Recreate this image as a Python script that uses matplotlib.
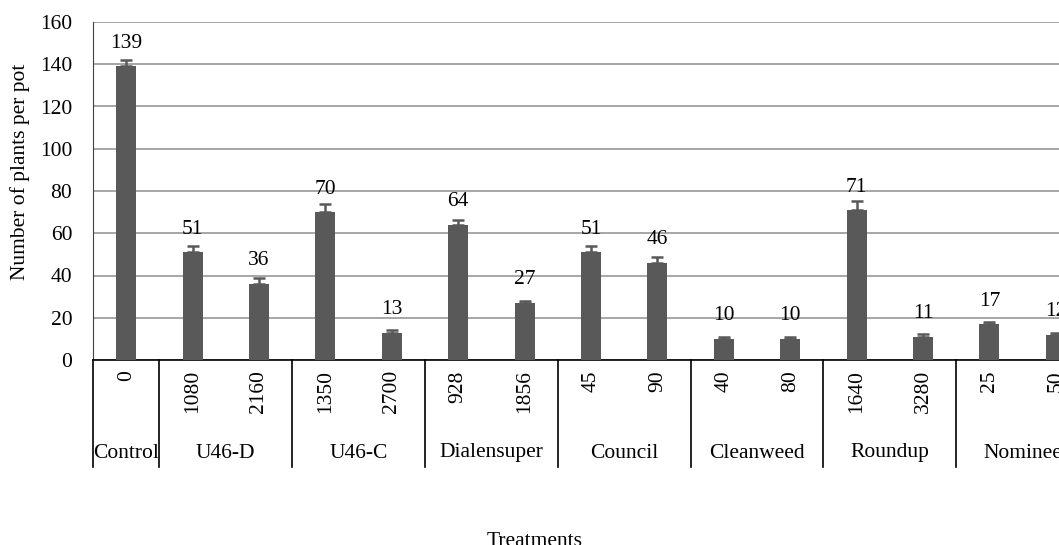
import numpy as np
import matplotlib
matplotlib.use("Agg")
import matplotlib.pyplot as plt

# --- data ---
groups = ["Control", "U46-D", "U46-C", "Dialensuper", "Council",
          "Cleanweed", "Roundup", "Nominee"]
rates = ["0", "1080", "2160", "1350", "2700", "928", "1856", "45", "90",
         "40", "80", "1640", "3280", "25", "50"]
group_size = [1, 2, 2, 2, 2, 2, 2, 2]
plants = [139, 51, 36, 70, 13, 64, 27, 51, 46, 10, 10, 71, 11, 17, 12]
errors = [3.2, 2.8, 2.8, 3.8, 1.1, 2.4, 1.1, 2.8, 2.8, 1.1, 1.1, 4.5, 1.1, 1.0, 1.0]

FS = 15.5
plt.rcParams["font.family"] = ["Liberation Serif", "DejaVu Serif"]
plt.rcParams["font.size"] = FS

W, H = 1059, 545
fig = plt.figure(figsize=(W / 100, H / 100), dpi=100)

# axes runs past the right edge, like the cropped original
x0, x1 = 93, 1089
y_top, y_bot = 22, 360
ax = fig.add_axes([x0 / W, 1 - y_bot / H, (x1 - x0) / W, (y_bot - y_top) / H])

bar_col = "#595959"
x = np.arange(len(plants))
ax.bar(x, plants, width=0.3, color=bar_col, zorder=3)
ax.errorbar(x, plants, yerr=[np.zeros(len(errors)), errors], fmt="none",
            ecolor=bar_col, elinewidth=1.8, capsize=4.5, capthick=1.8, zorder=3)

for xi, v in zip(x, plants):
    ax.annotate(str(v), (xi, v), xytext=(0, 13.3), textcoords="offset points",
                ha="center", va="baseline", fontsize=FS)

ax.set_xlim(-0.5, len(plants) - 0.5)
ax.set_ylim(0, 160)
ax.set_yticks(np.arange(0, 161, 20))
ax.yaxis.grid(True, color="#a6a6a6", linewidth=1.4, zorder=0)
ax.tick_params(axis="y", length=0, pad=15, labelsize=FS)
ax.set_xticks([])
for side in ["top", "right"]:
    ax.spines[side].set_visible(False)
ax.spines["left"].set_color("#404040")
ax.spines["bottom"].set_color("black")
ax.spines["bottom"].set_linewidth(1.2)

# rate labels under each bar
trans = ax.get_xaxis_transform()
for xi, r in zip(x, rates):
    ax.text(xi, -0.03, r, rotation=90, ha="center", va="top",
            transform=trans, fontsize=FS)

# group labels and separators
sep_y = -(467 - y_bot) / (y_bot - y_top)
lab_y = -(453 - y_bot) / (y_bot - y_top)
start = -0.5
ax.plot([start, start], [0, sep_y], color="black", lw=1.2,
        transform=trans, clip_on=False)
for g, n in zip(groups, group_size):
    end = start + n
    ax.plot([end, end], [0, sep_y], color="black", lw=1.2,
            transform=trans, clip_on=False)
    ax.text((start + end) / 2, lab_y, g, ha="center", va="center",
            transform=trans, fontsize=FS)
    start = end

fig.text(20 / W, 1 - 172 / H, "Number of plants per pot", rotation=90,
         ha="center", va="center", fontsize=FS)
fig.text(535 / W, 1 - 542 / H, "Treatments", ha="center", va="center",
         fontsize=FS)

fig.savefig("out.png", dpi=100)
